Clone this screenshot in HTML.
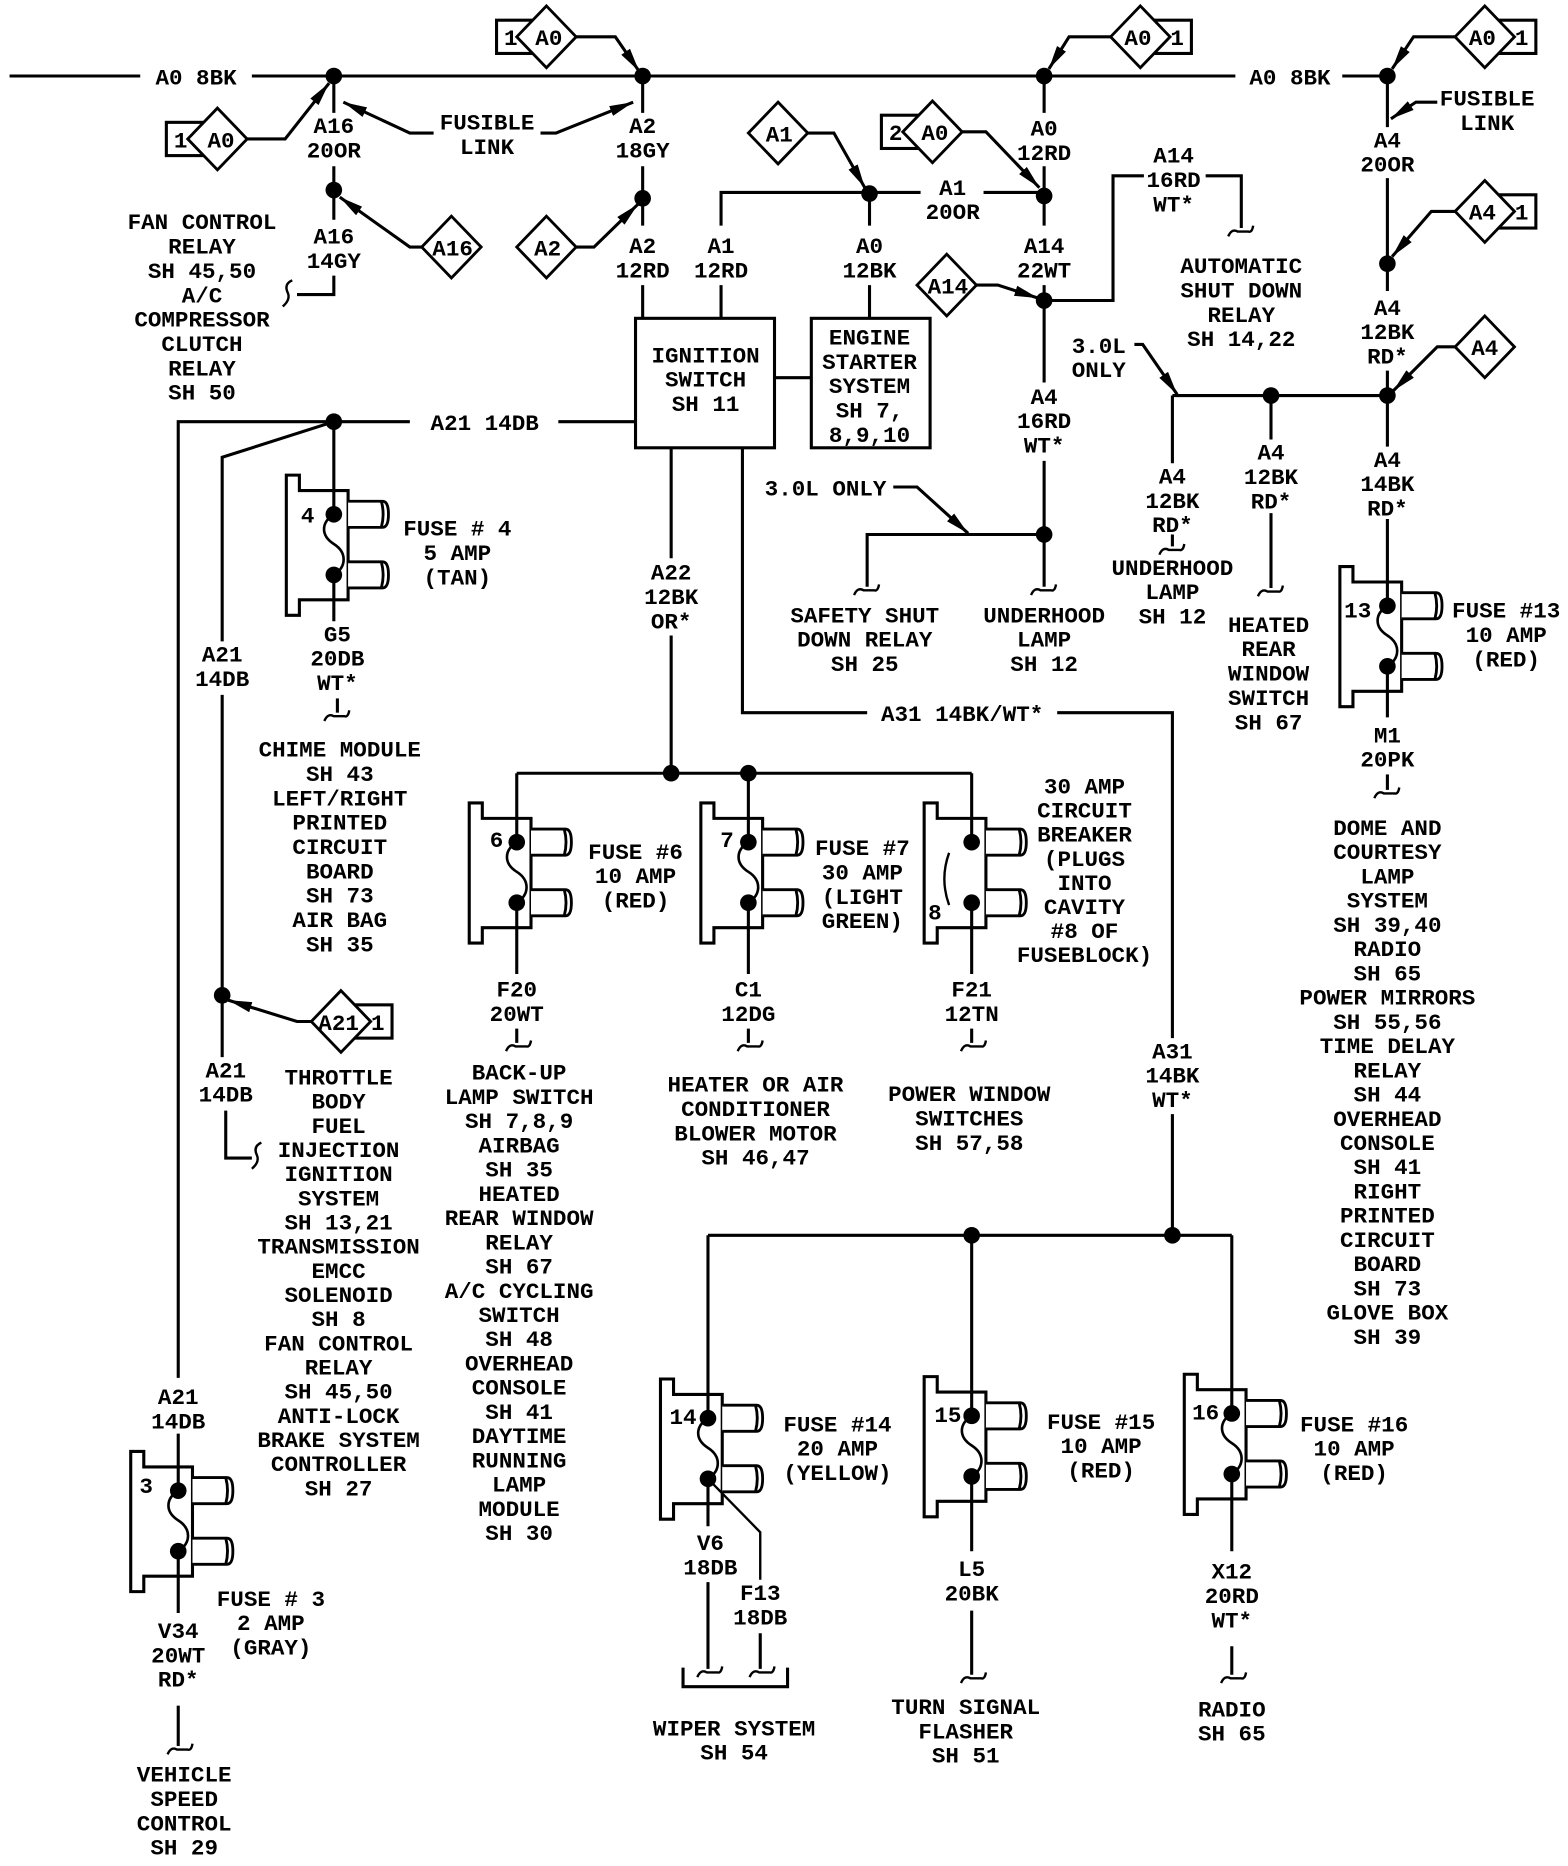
<!DOCTYPE html>
<html><head><meta charset="utf-8"><style>
html,body{margin:0;padding:0;background:#fff}
svg{display:block}
text{font-family:"Liberation Mono",monospace;font-size:19px;font-weight:bold;text-anchor:middle;fill:#000}
.w{fill:none;stroke:#000;stroke-width:2.6}
.t{fill:none;stroke:#000;stroke-width:2}
</style></head><body>
<svg width="1568" height="1866" viewBox="0 0 1320 1571" xmlns="http://www.w3.org/2000/svg">
<defs>
<marker id="a" viewBox="0 0 18 8" refX="18" refY="4" markerUnits="userSpaceOnUse" markerWidth="20" markerHeight="9" orient="auto"><path d="M0,0 L18,4 L0,8 z"/></marker>
<path id="sq" d="M-11,5 Q-8,-2 -3,1 L6,1 Q9,2 10,-4" fill="none" stroke="#000" stroke-width="2"/>
<path id="vs" d="M4,-12 Q-3,-9 0,-2 Q3,4 -4,10" fill="none" stroke="#000" stroke-width="2"/>
<g id="fuse">
<path d="M0,0 H11 V13 H52 V105 H11 V118 H0 Z" fill="#fff" stroke="#000" stroke-width="2.6"/>
<path d="M52,22 H81 Q86,22 86,33 Q86,44 81,44 H52 M80,22 Q83,33 80,44" fill="#fff" stroke="#000" stroke-width="2.4"/>
<path d="M52,73 H81 Q86,73 86,84 Q86,95 81,95 H52 M80,73 Q83,84 80,95" fill="#fff" stroke="#000" stroke-width="2.4"/>
</g>
<path id="fw" d="M40,33 C29,40 29,51 40,58 C51,65 51,77 40,84" fill="none" stroke="#000" stroke-width="2.2"/>
<path id="dm" d="M0,-26 L25,0 L0,26 L-25,0 Z" fill="#fff" stroke="#000" stroke-width="2.4"/>
</defs>

<!-- main bus -->
<path class="w" d="M8,64 H118 M212,64 H1040 M1130,64 H1168"/>
<text x="165" y="71">A0 8BK</text>
<text x="1086" y="71">A0 8BK</text>

<!-- A16 -->
<path class="w" d="M281,64 V95 M281,140 V185 M281,232 V248 H250"/>
<use href="#vs" x="242" y="248"/>
<text x="281" y="112">A16<tspan x="281" dy="20.5">20OR</tspan></text>
<text x="281" y="205">A16<tspan x="281" dy="20.5">14GY</tspan></text>
<rect x="140" y="103" width="32" height="28" class="w"/><text x="152" y="124">1</text>
<use href="#dm" x="183" y="117"/><text x="186" y="124">A0</text>
<path class="w" d="M208,117 H240 L277,70" marker-end="url(#a)"/>
<text x="410" y="109">FUSIBLE<tspan x="410" dy="20.5">LINK</tspan></text>
<path class="w" d="M365,112 H345 L289,86" marker-end="url(#a)"/>
<path class="w" d="M455,112 H468 L533,86" marker-end="url(#a)"/>
<use href="#dm" x="380" y="208"/><text x="381" y="215">A16</text>
<path class="w" d="M355,208 H345 L286,166" marker-end="url(#a)"/>
<text x="170" y="193">FAN CONTROL<tspan x="170" dy="20.5">RELAY</tspan><tspan x="170" dy="20.5">SH 45,50</tspan><tspan x="170" dy="20.5">A/C</tspan><tspan x="170" dy="20.5">COMPRESSOR</tspan><tspan x="170" dy="20.5">CLUTCH</tspan><tspan x="170" dy="20.5">RELAY</tspan><tspan x="170" dy="20.5">SH 50</tspan></text>

<!-- A2 -->
<rect x="418" y="17" width="32" height="28" class="w"/><text x="430" y="38">1</text>
<use href="#dm" x="460" y="31"/><text x="462" y="38">A0</text>
<path class="w" d="M485,31 H518 L538,60" marker-end="url(#a)"/>
<path class="w" d="M541,64 V95 M541,140 V190 M541,240 V268"/>
<text x="541" y="112">A2<tspan x="541" dy="20.5">18GY</tspan></text>
<text x="541" y="213">A2<tspan x="541" dy="20.5">12RD</tspan></text>
<use href="#dm" x="460" y="208"/><text x="461" y="215">A2</text>
<path class="w" d="M485,208 H500 L537,172" marker-end="url(#a)"/>

<!-- A1 / ignition / engine -->
<use href="#dm" x="655" y="112"/><text x="656" y="119">A1</text>
<path class="w" d="M680,112 H702 L728,158" marker-end="url(#a)"/>
<path class="w" d="M607,268 V240 M607,190 V162 H775 M828,162 H879"/>
<text x="607" y="213">A1<tspan x="607" dy="20.5">12RD</tspan></text>
<text x="802" y="164">A1<tspan x="802" dy="20.5">20OR</tspan></text>
<path class="w" d="M732,162 V190 M732,240 V268"/>
<text x="732" y="213">A0<tspan x="732" dy="20.5">12BK</tspan></text>
<rect x="535" y="268" width="117" height="109" class="w"/>
<text x="594" y="305">IGNITION<tspan x="594" dy="20.5">SWITCH</tspan><tspan x="594" dy="20.5">SH 11</tspan></text>
<rect x="683" y="268" width="100" height="109" class="w"/>
<text x="732" y="290">ENGINE<tspan x="732" dy="20.5">STARTER</tspan><tspan x="732" dy="20.5">SYSTEM</tspan><tspan x="732" dy="20.5">SH 7,</tspan><tspan x="732" dy="20.5">8,9,10</tspan></text>
<path class="w" d="M652,318 H683"/>

<!-- x=879 -->
<path class="w" d="M879,64 V95 M879,140 V190 M879,240 V322"/>
<text x="879" y="114">A0<tspan x="879" dy="20.5">12RD</tspan></text>
<text x="879" y="213">A14<tspan x="879" dy="20.5">22WT</tspan></text>
<rect x="742" y="97" width="32" height="28" class="w"/><text x="754" y="118">2</text>
<use href="#dm" x="785" y="111"/><text x="787" y="118">A0</text>
<path class="w" d="M810,111 H830 L875,158" marker-end="url(#a)"/>
<rect x="970" y="17" width="33" height="28" class="w"/><text x="991" y="38">1</text>
<use href="#dm" x="960" y="31"/><text x="958" y="38">A0</text>
<path class="w" d="M935,31 H900 L883,58" marker-end="url(#a)"/>
<use href="#dm" x="797" y="240"/><text x="798" y="247">A14</text>
<path class="w" d="M822,240 H840 L874,251" marker-end="url(#a)"/>
<path class="w" d="M879,253 H937 V148 H963 M1015,148 H1045 V192"/>
<use href="#sq" x="1045" y="194"/>
<text x="988" y="137">A14<tspan x="988" dy="20.5">16RD</tspan><tspan x="988" dy="20.5">WT*</tspan></text>
<text x="1045" y="230">AUTOMATIC<tspan x="1045" dy="20.5">SHUT DOWN</tspan><tspan x="1045" dy="20.5">RELAY</tspan><tspan x="1045" dy="20.5">SH 14,22</tspan></text>
<text x="879" y="340">A4<tspan x="879" dy="20.5">16RD</tspan><tspan x="879" dy="20.5">WT*</tspan></text>
<path class="w" d="M879,388 V494 M879,450 H730 V494"/>
<use href="#sq" x="879" y="496"/><use href="#sq" x="730" y="496"/>
<text x="695" y="417">3.0L ONLY</text>
<path class="w" d="M752,410 H772 L815,449" marker-end="url(#a)"/>
<text x="728" y="524">SAFETY SHUT<tspan x="728" dy="20.5">DOWN RELAY</tspan><tspan x="728" dy="20.5">SH 25</tspan></text>
<text x="879" y="524">UNDERHOOD<tspan x="879" dy="20.5">LAMP</tspan><tspan x="879" dy="20.5">SH 12</tspan></text>

<!-- x=1168 -->
<rect x="1260" y="17" width="33" height="28" class="w"/><text x="1281" y="38">1</text>
<use href="#dm" x="1250" y="31"/><text x="1248" y="38">A0</text>
<path class="w" d="M1225,31 H1190 L1172,58" marker-end="url(#a)"/>
<text x="1252" y="89">FUSIBLE<tspan x="1252" dy="20.5">LINK</tspan></text>
<path class="w" d="M1210,86 H1192 L1171,100" marker-end="url(#a)"/>
<path class="w" d="M1168,64 V107 M1168,150 V245 M1168,312 V376"/>
<text x="1168" y="124">A4<tspan x="1168" dy="20.5">20OR</tspan></text>
<rect x="1260" y="164" width="33" height="28" class="w"/><text x="1281" y="185">1</text>
<use href="#dm" x="1250" y="178"/><text x="1248" y="185">A4</text>
<path class="w" d="M1225,178 H1205 L1172,216" marker-end="url(#a)"/>
<text x="1168" y="265">A4<tspan x="1168" dy="20.5">12BK</tspan><tspan x="1168" dy="20.5">RD*</tspan></text>
<use href="#dm" x="1250" y="292"/><text x="1250" y="299">A4</text>
<path class="w" d="M1225,292 H1210 L1173,329" marker-end="url(#a)"/>
<path class="w" d="M987,333 H1168"/>
<text x="925" y="297">3.0L<tspan x="925" dy="20.5">ONLY</tspan></text>
<path class="w" d="M955,290 H962 L991,332" marker-end="url(#a)"/>
<path class="w" d="M987,333 V390 M987,450 V460 M1070,333 V370 M1070,432 V495"/>
<use href="#sq" x="987" y="462"/><use href="#sq" x="1070" y="497"/>
<text x="987" y="407">A4<tspan x="987" dy="20.5">12BK</tspan><tspan x="987" dy="20.5">RD*</tspan></text>
<text x="987" y="484">UNDERHOOD<tspan x="987" dy="20.5">LAMP</tspan><tspan x="987" dy="20.5">SH 12</tspan></text>
<text x="1070" y="387">A4<tspan x="1070" dy="20.5">12BK</tspan><tspan x="1070" dy="20.5">RD*</tspan></text>
<text x="1068" y="532">HEATED<tspan x="1068" dy="20.5">REAR</tspan><tspan x="1068" dy="20.5">WINDOW</tspan><tspan x="1068" dy="20.5">SWITCH</tspan><tspan x="1068" dy="20.5">SH 67</tspan></text>
<text x="1168" y="393">A4<tspan x="1168" dy="20.5">14BK</tspan><tspan x="1168" dy="20.5">RD*</tspan></text>
<use href="#fuse" x="1128" y="477"/>
<path class="w" d="M1168,437 V510 M1168,561 V604"/><use href="#fw" x="1128" y="477"/>
<text x="1143" y="520">13</text>
<text x="1268" y="520">FUSE #13<tspan x="1268" dy="20.5">10 AMP</tspan><tspan x="1268" dy="20.5">(RED)</tspan></text>
<text x="1168" y="625">M1<tspan x="1168" dy="20.5">20PK</tspan></text>
<path class="w" d="M1168,652 V665"/><use href="#sq" x="1168" y="667"/>
<text x="1168" y="703">DOME AND<tspan x="1168" dy="20.4">COURTESY</tspan><tspan x="1168" dy="20.4">LAMP</tspan><tspan x="1168" dy="20.4">SYSTEM</tspan><tspan x="1168" dy="20.4">SH 39,40</tspan><tspan x="1168" dy="20.4">RADIO</tspan><tspan x="1168" dy="20.4">SH 65</tspan><tspan x="1168" dy="20.4">POWER MIRRORS</tspan><tspan x="1168" dy="20.4">SH 55,56</tspan><tspan x="1168" dy="20.4">TIME DELAY</tspan><tspan x="1168" dy="20.4">RELAY</tspan><tspan x="1168" dy="20.4">SH 44</tspan><tspan x="1168" dy="20.4">OVERHEAD</tspan><tspan x="1168" dy="20.4">CONSOLE</tspan><tspan x="1168" dy="20.4">SH 41</tspan><tspan x="1168" dy="20.4">RIGHT</tspan><tspan x="1168" dy="20.4">PRINTED</tspan><tspan x="1168" dy="20.4">CIRCUIT</tspan><tspan x="1168" dy="20.4">BOARD</tspan><tspan x="1168" dy="20.4">SH 73</tspan><tspan x="1168" dy="20.4">GLOVE BOX</tspan><tspan x="1168" dy="20.4">SH 39</tspan></text>

<!-- A21 -->
<path class="w" d="M150,1160 V355 H345 M470,355 H535"/>
<text x="408" y="362">A21 14DB</text>
<path class="w" d="M281,355 L187,385 V540 M187,585 V890"/>
<text x="187" y="557">A21<tspan x="187" dy="20.5">14DB</tspan></text>
<rect x="297" y="846" width="33" height="28" class="w"/><text x="318" y="867">1</text>
<use href="#dm" x="287" y="860"/><text x="285" y="867">A21</text>
<path class="w" d="M262,860 H250 L192,842" marker-end="url(#a)"/>
<text x="190" y="907">A21<tspan x="190" dy="20.5">14DB</tspan></text>
<path class="w" d="M190,935 V975 H212"/><use href="#vs" x="216" y="974"/>
<text x="285" y="913">THROTTLE<tspan x="285" dy="20.35">BODY</tspan><tspan x="285" dy="20.35">FUEL</tspan><tspan x="285" dy="20.35">INJECTION</tspan><tspan x="285" dy="20.35">IGNITION</tspan><tspan x="285" dy="20.35">SYSTEM</tspan><tspan x="285" dy="20.35">SH 13,21</tspan><tspan x="285" dy="20.35">TRANSMISSION</tspan><tspan x="285" dy="20.35">EMCC</tspan><tspan x="285" dy="20.35">SOLENOID</tspan><tspan x="285" dy="20.35">SH 8</tspan><tspan x="285" dy="20.35">FAN CONTROL</tspan><tspan x="285" dy="20.35">RELAY</tspan><tspan x="285" dy="20.35">SH 45,50</tspan><tspan x="285" dy="20.35">ANTI-LOCK</tspan><tspan x="285" dy="20.35">BRAKE SYSTEM</tspan><tspan x="285" dy="20.35">CONTROLLER</tspan><tspan x="285" dy="20.35">SH 27</tspan></text>

<!-- fuse 4 -->
<use href="#fuse" x="241" y="400"/>
<path class="w" d="M281,355 V433 M281,484 V523"/><use href="#fw" x="241" y="400"/>
<text x="259" y="440">4</text>
<text x="385" y="451">FUSE # 4<tspan x="385" dy="20.5">5 AMP</tspan><tspan x="385" dy="20.5">(TAN)</tspan></text>
<text x="284" y="540">G5<tspan x="284" dy="20.5">20DB</tspan><tspan x="284" dy="20.5">WT*</tspan></text>
<path class="w" d="M284,588 V600"/><use href="#sq" x="284" y="602"/>
<text x="286" y="637">CHIME MODULE<tspan x="286" dy="20.5">SH 43</tspan><tspan x="286" dy="20.5">LEFT/RIGHT</tspan><tspan x="286" dy="20.5">PRINTED</tspan><tspan x="286" dy="20.5">CIRCUIT</tspan><tspan x="286" dy="20.5">BOARD</tspan><tspan x="286" dy="20.5">SH 73</tspan><tspan x="286" dy="20.5">AIR BAG</tspan><tspan x="286" dy="20.5">SH 35</tspan></text>

<!-- fuse 3 -->
<text x="150" y="1182">A21<tspan x="150" dy="20.5">14DB</tspan></text>
<use href="#fuse" x="110" y="1222"/>
<path class="w" d="M150,1207 V1255 M150,1306 V1358"/><use href="#fw" x="110" y="1222"/>
<text x="123" y="1257">3</text>
<text x="228" y="1352">FUSE # 3<tspan x="228" dy="20.5">2 AMP</tspan><tspan x="228" dy="20.5">(GRAY)</tspan></text>
<text x="150" y="1379">V34<tspan x="150" dy="20.5">20WT</tspan><tspan x="150" dy="20.5">RD*</tspan></text>
<path class="w" d="M150,1436 V1470"/><use href="#sq" x="152" y="1472"/>
<text x="155" y="1500">VEHICLE<tspan x="155" dy="20.5">SPEED</tspan><tspan x="155" dy="20.5">CONTROL</tspan><tspan x="155" dy="20.5">SH 29</tspan></text>

<!-- ignition bottom -->
<path class="w" d="M565,377 V470 M565,535 V651 M625,377 V600 H730 M890,600 H987 V874 M987,938 V1040"/>
<text x="565" y="488">A22<tspan x="565" dy="20.5">12BK</tspan><tspan x="565" dy="20.5">OR*</tspan></text>
<text x="810" y="607">A31 14BK/WT*</text>
<text x="987" y="891">A31<tspan x="987" dy="20.5">14BK</tspan><tspan x="987" dy="20.5">WT*</tspan></text>
<path class="w" d="M435,651 H818"/>

<use href="#fuse" x="395" y="676"/>
<path class="w" d="M435,651 V709 M435,760 V820"/><use href="#fw" x="395" y="676"/>
<text x="418" y="713">6</text>
<text x="535" y="723">FUSE #6<tspan x="535" dy="20.5">10 AMP</tspan><tspan x="535" dy="20.5">(RED)</tspan></text>
<text x="435" y="839">F20<tspan x="435" dy="20.5">20WT</tspan></text>
<path class="w" d="M435,866 V878"/><use href="#sq" x="437" y="880"/>
<text x="437" y="909">BACK-UP<tspan x="437" dy="20.4">LAMP SWITCH</tspan><tspan x="437" dy="20.4">SH 7,8,9</tspan><tspan x="437" dy="20.4">AIRBAG</tspan><tspan x="437" dy="20.4">SH 35</tspan><tspan x="437" dy="20.4">HEATED</tspan><tspan x="437" dy="20.4">REAR WINDOW</tspan><tspan x="437" dy="20.4">RELAY</tspan><tspan x="437" dy="20.4">SH 67</tspan><tspan x="437" dy="20.4">A/C CYCLING</tspan><tspan x="437" dy="20.4">SWITCH</tspan><tspan x="437" dy="20.4">SH 48</tspan><tspan x="437" dy="20.4">OVERHEAD</tspan><tspan x="437" dy="20.4">CONSOLE</tspan><tspan x="437" dy="20.4">SH 41</tspan><tspan x="437" dy="20.4">DAYTIME</tspan><tspan x="437" dy="20.4">RUNNING</tspan><tspan x="437" dy="20.4">LAMP</tspan><tspan x="437" dy="20.4">MODULE</tspan><tspan x="437" dy="20.4">SH 30</tspan></text>

<use href="#fuse" x="590" y="676"/>
<path class="w" d="M630,651 V709 M630,760 V820"/><use href="#fw" x="590" y="676"/>
<text x="612" y="713">7</text>
<text x="726" y="720">FUSE #7<tspan x="726" dy="20.5">30 AMP</tspan><tspan x="726" dy="20.5">(LIGHT</tspan><tspan x="726" dy="20.5">GREEN)</tspan></text>
<text x="630" y="839">C1<tspan x="630" dy="20.5">12DG</tspan></text>
<path class="w" d="M630,866 V878"/><use href="#sq" x="632" y="880"/>
<text x="636" y="919">HEATER OR AIR<tspan x="636" dy="20.5">CONDITIONER</tspan><tspan x="636" dy="20.5">BLOWER MOTOR</tspan><tspan x="636" dy="20.5">SH 46,47</tspan></text>

<use href="#fuse" x="778" y="676"/>
<path class="w" d="M818,651 V709 M818,760 V820"/>
<path class="t" d="M799,718 Q791,740 799,762"/>
<text x="787" y="774">8</text>
<text x="913" y="668">30 AMP<tspan x="913" dy="20.3">CIRCUIT</tspan><tspan x="913" dy="20.3">BREAKER</tspan><tspan x="913" dy="20.3">(PLUGS</tspan><tspan x="913" dy="20.3">INTO</tspan><tspan x="913" dy="20.3">CAVITY</tspan><tspan x="913" dy="20.3">#8 OF</tspan><tspan x="913" dy="20.3">FUSEBLOCK)</tspan></text>
<text x="818" y="839">F21<tspan x="818" dy="20.5">12TN</tspan></text>
<path class="w" d="M818,866 V878"/><use href="#sq" x="820" y="880"/>
<text x="816" y="927">POWER WINDOW<tspan x="816" dy="20.5">SWITCHES</tspan><tspan x="816" dy="20.5">SH 57,58</tspan></text>

<!-- bottom fuses -->
<path class="w" d="M596,1040 H1037"/>
<use href="#fuse" x="556" y="1161"/>
<path class="w" d="M596,1040 V1194 M596,1245 V1285"/><use href="#fw" x="556" y="1161"/>
<path class="t" d="M596,1245 L640,1290 V1330"/>
<text x="575" y="1199">14</text>
<text x="705" y="1205">FUSE #14<tspan x="705" dy="20.5">20 AMP</tspan><tspan x="705" dy="20.5">(YELLOW)</tspan></text>
<text x="598" y="1305">V6<tspan x="598" dy="20.5">18DB</tspan></text>
<text x="640" y="1347">F13<tspan x="640" dy="20.5">18DB</tspan></text>
<path class="w" d="M596,1332 V1405 M640,1375 V1405"/>
<use href="#sq" x="598" y="1407"/><use href="#sq" x="642" y="1407"/>
<path class="w" d="M575,1404 V1420 H663 V1404"/>
<text x="618" y="1461">WIPER SYSTEM<tspan x="618" dy="20.5">SH 54</tspan></text>

<use href="#fuse" x="778" y="1159"/>
<path class="w" d="M818,1040 V1192 M818,1243 V1306"/><use href="#fw" x="778" y="1159"/>
<text x="798" y="1197">15</text>
<text x="927" y="1203">FUSE #15<tspan x="927" dy="20.5">10 AMP</tspan><tspan x="927" dy="20.5">(RED)</tspan></text>
<text x="818" y="1327">L5<tspan x="818" dy="20.5">20BK</tspan></text>
<path class="w" d="M818,1356 V1410"/><use href="#sq" x="820" y="1412"/>
<text x="813" y="1443">TURN SIGNAL<tspan x="813" dy="20.5">FLASHER</tspan><tspan x="813" dy="20.5">SH 51</tspan></text>

<use href="#fuse" x="997" y="1157"/>
<path class="w" d="M1037,1040 V1190 M1037,1241 V1306"/><use href="#fw" x="997" y="1157"/>
<text x="1015" y="1195">16</text>
<text x="1140" y="1205">FUSE #16<tspan x="1140" dy="20.5">10 AMP</tspan><tspan x="1140" dy="20.5">(RED)</tspan></text>
<text x="1037" y="1329">X12<tspan x="1037" dy="20.5">20RD</tspan><tspan x="1037" dy="20.5">WT*</tspan></text>
<path class="w" d="M1037,1386 V1410"/><use href="#sq" x="1039" y="1412"/>
<text x="1037" y="1445">RADIO<tspan x="1037" dy="20.5">SH 65</tspan></text>

<!-- junction dots -->
<g fill="#000">
<circle cx="281" cy="64" r="7"/><circle cx="541" cy="64" r="7"/><circle cx="879" cy="64" r="7"/><circle cx="1168" cy="64" r="7"/>
<circle cx="281" cy="160" r="7"/><circle cx="541" cy="167" r="7"/><circle cx="732" cy="163" r="7"/><circle cx="879" cy="165" r="7"/>
<circle cx="879" cy="253" r="7"/><circle cx="879" cy="450" r="7"/><circle cx="1168" cy="222" r="7"/><circle cx="1168" cy="333" r="7"/><circle cx="1070" cy="333" r="7"/>
<circle cx="281" cy="355" r="7"/><circle cx="187" cy="838" r="7"/>
<circle cx="565" cy="651" r="7"/><circle cx="630" cy="651" r="7"/>
<circle cx="987" cy="1040" r="7"/><circle cx="818" cy="1040" r="7"/>
<circle cx="281" cy="433" r="7"/><circle cx="281" cy="484" r="7"/>
<circle cx="1168" cy="510" r="7"/><circle cx="1168" cy="561" r="7"/>
<circle cx="150" cy="1255" r="7"/><circle cx="150" cy="1306" r="7"/>
<circle cx="435" cy="709" r="7"/><circle cx="435" cy="760" r="7"/>
<circle cx="630" cy="709" r="7"/><circle cx="630" cy="760" r="7"/>
<circle cx="818" cy="709" r="7"/><circle cx="818" cy="760" r="7"/>
<circle cx="596" cy="1194" r="7"/><circle cx="596" cy="1245" r="7"/>
<circle cx="818" cy="1192" r="7"/><circle cx="818" cy="1243" r="7"/>
<circle cx="1037" cy="1190" r="7"/><circle cx="1037" cy="1241" r="7"/>
</g>
</svg>
</body></html>
